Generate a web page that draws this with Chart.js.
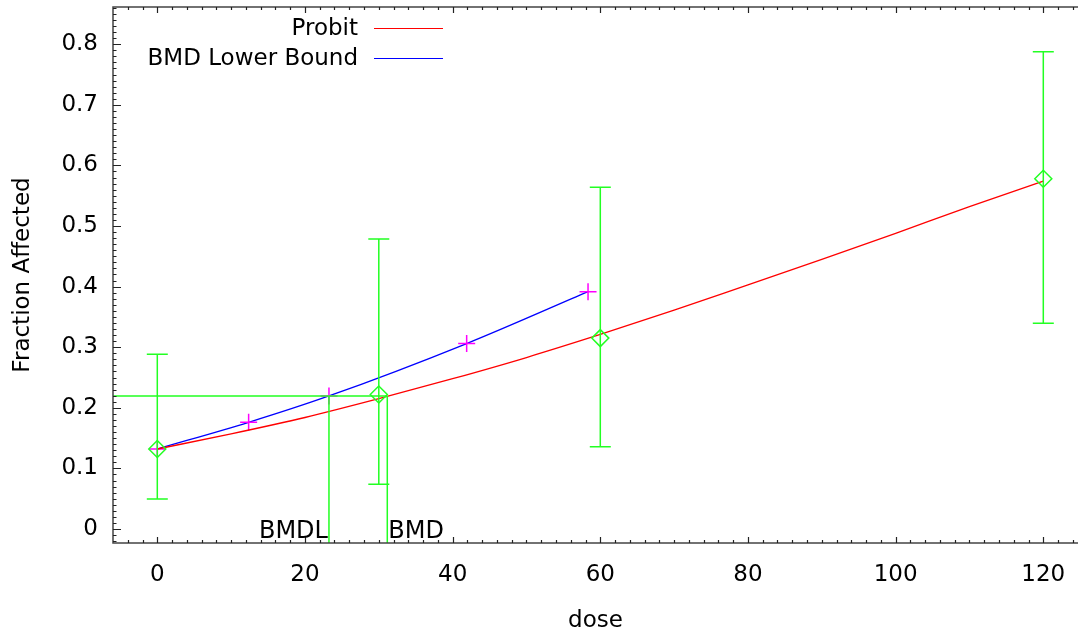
<!DOCTYPE html>
<html><head><meta charset="utf-8">
<script src="https://cdn.jsdelivr.net/npm/chart.js@4.4.1/dist/chart.umd.min.js"></script>
<style>html,body{margin:0;padding:0;background:#fff;}#wrap{width:1078px;height:635px;}</style>
</head><body><div id="wrap"><canvas id="c" width="1078" height="635"></canvas></div>
<script>
// ---- data ----
const doseObs  = [0, 30, 60, 120];
const fracObs  = [0.132, 0.222, 0.315, 0.578];
const fracLow  = [0.0495, 0.0737, 0.1358, 0.3394];
const fracHigh = [0.2882, 0.4785, 0.5638, 0.7876];
const probitDose = [0, 10, 20, 30, 40, 50, 60, 70, 80, 90, 100, 110, 120];
const probitFrac = [0.132, 0.157, 0.184, 0.215, 0.248, 0.283, 0.321, 0.361, 0.403, 0.445, 0.488, 0.532, 0.574];
const lowerDose = [0, 12.37, 23.25, 41.9, 58.34];
const lowerFrac = [0.132, 0.176, 0.2195, 0.306, 0.3916];
const bmrLevel = 0.2195;
const bmdlDose = 23.25;
const bmdDose = 31.15;
const xTickValues = [0, 20, 40, 60, 80, 100, 120];
const yTickValues = [0, 0.1, 0.2, 0.3, 0.4, 0.5, 0.6, 0.7, 0.8];
const yTickLabels = ['0', '0.1', '0.2', '0.3', '0.4', '0.5', '0.6', '0.7', '0.8'];
const legendLabels = ['Probit', 'BMD Lower Bound'];

const FONT = 'DejaVu Sans';
const GREEN = '#22ff22';

function noPad(s) { s.paddingTop = 0; s.paddingBottom = 0; s.paddingLeft = 0; s.paddingRight = 0; }

const decor = {
  id: 'decor',
  afterDatasetsDraw(chart) {
    const {ctx, chartArea: a, scales: {x, y}} = chart;
    ctx.save();
    ctx.strokeStyle = GREEN;
    ctx.lineWidth = 1.5;
    for (let i = 0; i < doseObs.length; i++) {
      const px = x.getPixelForValue(doseObs[i]);
      const y1 = y.getPixelForValue(fracLow[i]);
      const y2 = y.getPixelForValue(fracHigh[i]);
      ctx.beginPath();
      ctx.moveTo(px, y1); ctx.lineTo(px, y2);
      ctx.moveTo(px - 10.5, y1); ctx.lineTo(px + 10.5, y1);
      ctx.moveTo(px - 10.5, y2); ctx.lineTo(px + 10.5, y2);
      ctx.stroke();
    }
    const yb = y.getPixelForValue(bmrLevel);
    const xl = x.getPixelForValue(bmdlDose);
    const xd = x.getPixelForValue(bmdDose);
    ctx.beginPath();
    ctx.moveTo(a.left, yb); ctx.lineTo(xd, yb);
    ctx.moveTo(xl, yb); ctx.lineTo(xl, a.bottom);
    ctx.moveTo(xd, yb); ctx.lineTo(xd, a.bottom);
    ctx.stroke();
    ctx.restore();
  },
  afterDraw(chart) {
    const {ctx, chartArea: a, scales: {x, y}} = chart;
    ctx.save();
    ctx.strokeStyle = '#444';
    ctx.lineWidth = 1.5;
    ctx.beginPath();
    ctx.moveTo(a.right, a.top); ctx.lineTo(a.left, a.top);
    ctx.lineTo(a.left, a.bottom); ctx.lineTo(a.right, a.bottom);
    ctx.stroke();
    ctx.lineWidth = 1.2;
    ctx.strokeStyle = '#222';
    ctx.beginPath();
    for (let i = -2; i <= 86; i++) {
      const py = Math.round(y.getPixelForValue(i / 100)) + 0.5;
      if (py < a.top + 1 || py > a.bottom - 1) continue;
      const len = (i % 10 === 0) ? 8 : 3.5;
      ctx.moveTo(a.left, py); ctx.lineTo(a.left + len, py);
    }
    for (let d = -6; d <= 124; d += 2) {
      const px = Math.round(x.getPixelForValue(d)) + 0.5;
      if (px < a.left + 1 || px > a.right - 1) continue;
      const len = (d % 20 === 0) ? 6 : 3;
      ctx.moveTo(px, a.bottom); ctx.lineTo(px, a.bottom - len);
      ctx.moveTo(px, a.top); ctx.lineTo(px, a.top + len);
    }
    ctx.stroke();
    ctx.fillStyle = '#000';
    ctx.font = '24px "' + FONT + '"';
    ctx.textBaseline = 'alphabetic';
    ctx.textAlign = 'right';
    ctx.fillText('BMDL', x.getPixelForValue(bmdlDose) - 1, 538);
    ctx.textAlign = 'left';
    ctx.fillText('BMD', x.getPixelForValue(bmdDose) + 1, 538);
    ctx.font = '23px "' + FONT + '"';
    ctx.textAlign = 'right';
    ctx.textBaseline = 'middle';
    const ds = chart.data.datasets;
    const rows = [{d: ds[1], y: 28.5}, {d: ds[2], y: 58.5}];
    rows.forEach(r => {
      ctx.fillStyle = '#000';
      ctx.fillText(r.d.label, 358, r.y + 1);
      ctx.strokeStyle = r.d.borderColor;
      ctx.lineWidth = 1.2;
      ctx.beginPath();
      ctx.moveTo(374, r.y); ctx.lineTo(443, r.y);
      ctx.stroke();
    });
    ctx.restore();
  }
};

new Chart(document.getElementById('c'), {
  type: 'scatter',
  data: {
    datasets: [
      {
        label: 'Observed',
        data: doseObs.map((d, i) => ({x: d, y: fracObs[i]})),
        showLine: false,
        pointStyle: 'rectRot',
        pointRadius: 8.5,
        pointBorderWidth: 1.5,
        pointBorderColor: GREEN,
        pointBackgroundColor: 'rgba(0,0,0,0)'
      },
      {
        label: legendLabels[0],
        data: probitDose.map((d, i) => ({x: d, y: probitFrac[i]})),
        showLine: true,
        borderColor: '#ff0000',
        borderWidth: 1.3,
        pointRadius: 0,
        cubicInterpolationMode: 'monotone'
      },
      {
        label: legendLabels[1],
        data: lowerDose.map((d, i) => ({x: d, y: lowerFrac[i]})),
        showLine: true,
        borderColor: '#0000ff',
        borderWidth: 1.3,
        pointStyle: 'cross',
        pointRadius: 8.5,
        pointBorderWidth: 1.5,
        pointBorderColor: '#ff00ff',
        cubicInterpolationMode: 'monotone'
      }
    ]
  },
  options: {
    responsive: false,
    animation: false,
    devicePixelRatio: 1,
    layout: {autoPadding: false, padding: {top: 7, left: 0, right: 0, bottom: 0}},
    plugins: {legend: {display: false}, tooltip: {enabled: false}},
    scales: {
      x: {
        type: 'linear',
        min: -6.0,
        max: 124.7,
        afterBuildTicks: s => { s.ticks = xTickValues.map(v => ({value: v})); },
        afterFit: s => { s.height = 92; noPad(s); },
        grid: {display: false, drawTicks: false},
        border: {display: false},
        ticks: {
          font: {family: FONT, size: 23},
          color: '#000',
          padding: 18,
          maxRotation: 0,
          autoSkip: false,
          callback: v => String(v)
        },
        title: {
          display: true,
          text: 'dose',
          color: '#000',
          font: {family: FONT, size: 23},
          padding: {top: 0, bottom: 0}
        }
      },
      y: {
        type: 'linear',
        min: -0.0231,
        max: 0.8614,
        afterBuildTicks: s => { s.ticks = yTickValues.map(v => ({value: v})); },
        afterFit: s => { s.width = 113; noPad(s); },
        grid: {display: false, drawTicks: false},
        border: {display: false},
        ticks: {
          font: {family: FONT, size: 23},
          color: '#000',
          padding: 15,
          autoSkip: false,
          callback: (v, i) => yTickLabels[i]
        },
        title: {
          display: true,
          text: 'Fraction Affected',
          color: '#000',
          font: {family: FONT, size: 23},
          padding: {top: 9, bottom: 0}
        }
      }
    }
  },
  plugins: [decor]
});
</script>
</body></html>
